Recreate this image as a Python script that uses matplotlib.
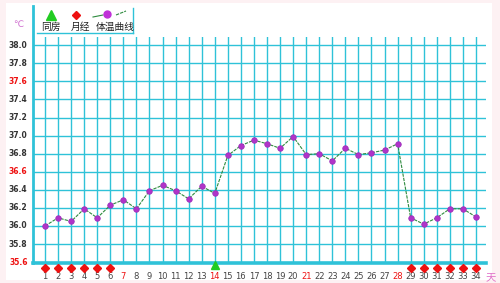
import numpy as np
import matplotlib.pyplot as plt
from matplotlib.patches import Rectangle

plt.rcParams['font.family'] = ['Noto Sans CJK SC', 'DejaVu Sans']

# data
days = list(range(1, 35))
temps = [36.00, 36.09, 36.05, 36.19, 36.09, 36.23, 36.29, 36.19, 36.39, 36.45,
         36.39, 36.30, 36.44, 36.36, 36.78, 36.89, 36.95, 36.91, 36.86, 36.99,
         36.79, 36.80, 36.72, 36.86, 36.79, 36.81, 36.84, 36.91, 36.09, 36.02,
         36.09, 36.19, 36.19, 36.10]
period_days = [1, 2, 3, 4, 5, 6, 29, 30, 31, 32, 33, 34]
sex_days = [14]
red_days = [7, 14, 21, 28]
y_ticks = [35.6, 35.8, 36.0, 36.2, 36.4, 36.6, 36.8, 37.0, 37.2, 37.4, 37.6, 37.8, 38.0]
red_ticks = [35.6, 36.6, 37.6]

grid_c = '#2fc2d8'

fig = plt.figure(figsize=(5, 2.83), dpi=100, facecolor='#fdf1f3')
fig.patches.append(Rectangle((0.012, 0.012), 0.972, 0.976, transform=fig.transFigure,
                             facecolor='white', edgecolor='none', zorder=-1))
ax = fig.add_axes([0.066, 0.0707, 0.906, 0.798])
ax.set_facecolor('white')
ax.set_xlim(0.08, 34.77)
ax.set_ylim(35.59, 38.09)

for s in ax.spines.values():
    s.set_visible(False)
ax.set_xticks([])
ax.set_yticks([])

# grid
for d in days:
    ax.axvline(d, color=grid_c, lw=1.0, zorder=1)
for t in y_ticks[1:]:
    ax.axhline(t, color=grid_c, lw=1.0, zorder=1)
ax.axhline(35.59, color=grid_c, lw=2.6, zorder=2, clip_on=False)
ax.plot([0, 0], [0, 1.14], transform=ax.transAxes, color=grid_c, lw=2.0,
        clip_on=False, zorder=2)

# temperature curve
ax.plot(days, temps, color='#2e8b3e', lw=0.8, ls=(0, (3, 1)), zorder=3)
ax.plot(days, temps, ls='none', marker='o', ms=4.0, color='#b034c8',
        mec='#9a2ab8', mew=0.5, zorder=4)

# markers under the axis
tr = ax.get_xaxis_transform()
ax.plot(period_days, [-0.022] * len(period_days), ls='none', marker='D', ms=3.6,
        color='#ee1111', transform=tr, clip_on=False, zorder=5)
ax.plot(sex_days, [-0.008] * len(sex_days), ls='none', marker='^', ms=6,
        color='#22cc22', transform=tr, clip_on=False, zorder=5)

# day labels
for d in days:
    c = '#ee1111' if d in red_days else '#444444'
    ax.text(d, -0.062, str(d), transform=tr, ha='center', va='center',
            fontsize=6, color=c, family='DejaVu Sans')
ax.text(35.15, -0.066, '天', transform=tr, ha='center', va='center',
        fontsize=7.5, color='#e070c8')

# temperature labels
ytr = ax.get_yaxis_transform()
for t in y_ticks:
    c = '#ee1111' if t in red_ticks else '#333333'
    ax.text(-0.012, t, '%.1f' % t, transform=ytr, ha='right', va='center',
            fontsize=5.5, color=c, fontweight='bold', family='DejaVu Sans')
fig.text(0.036, 0.912, '℃', ha='center', va='center', fontsize=6.5,
         color='#d070d0', family='DejaVu Sans')

# legend box
fig.patches.append(Rectangle((37 / 500, 1 - 33 / 283), 96 / 500, 25 / 283,
                             transform=fig.transFigure, facecolor='white',
                             edgecolor='none', zorder=3))
fig.lines.append(plt.Line2D([37 / 500, 133 / 500], [1 - 33 / 283, 1 - 33 / 283],
                            transform=fig.transFigure, color=grid_c, lw=1.0, zorder=4))
fig.lines.append(plt.Line2D([133 / 500, 133 / 500], [1 - 33 / 283, 1 - 8 / 283],
                            transform=fig.transFigure, color=grid_c, lw=1.0, zorder=4))
fig.lines.append(plt.Line2D([51 / 500], [1 - 15 / 283], transform=fig.transFigure,
                            marker='^', ms=6.5, color='#22cc22', ls='none', zorder=4))
fig.lines.append(plt.Line2D([76 / 500], [1 - 15 / 283], transform=fig.transFigure,
                            marker='D', ms=4, color='#ee1111', ls='none', zorder=4))
fig.lines.append(plt.Line2D([93 / 500, 103 / 500], [1 - 17 / 283, 1 - 15 / 283],
                            transform=fig.transFigure, color='#2e8b3e', lw=0.8, zorder=4))
fig.lines.append(plt.Line2D([116 / 500, 126 / 500], [1 - 15 / 283, 1 - 11 / 283],
                            transform=fig.transFigure, color='#2e8b3e', lw=0.8,
                            ls=(0, (3, 1)), zorder=4))
fig.lines.append(plt.Line2D([107 / 500], [1 - 14 / 283], transform=fig.transFigure,
                            marker='o', ms=5, color='#c030d8', ls='none', zorder=5))
fig.text(51 / 500, 1 - 27 / 283, '同房', ha='center', va='center', fontsize=7,
         color='#222222', zorder=5)
fig.text(80 / 500, 1 - 27 / 283, '月经', ha='center', va='center', fontsize=7,
         color='#222222', zorder=5)
fig.text(115 / 500, 1 - 27 / 283, '体温曲线', ha='center', va='center', fontsize=7,
         color='#222222', zorder=5)

fig.savefig('out.png', dpi=100, facecolor=fig.get_facecolor())
